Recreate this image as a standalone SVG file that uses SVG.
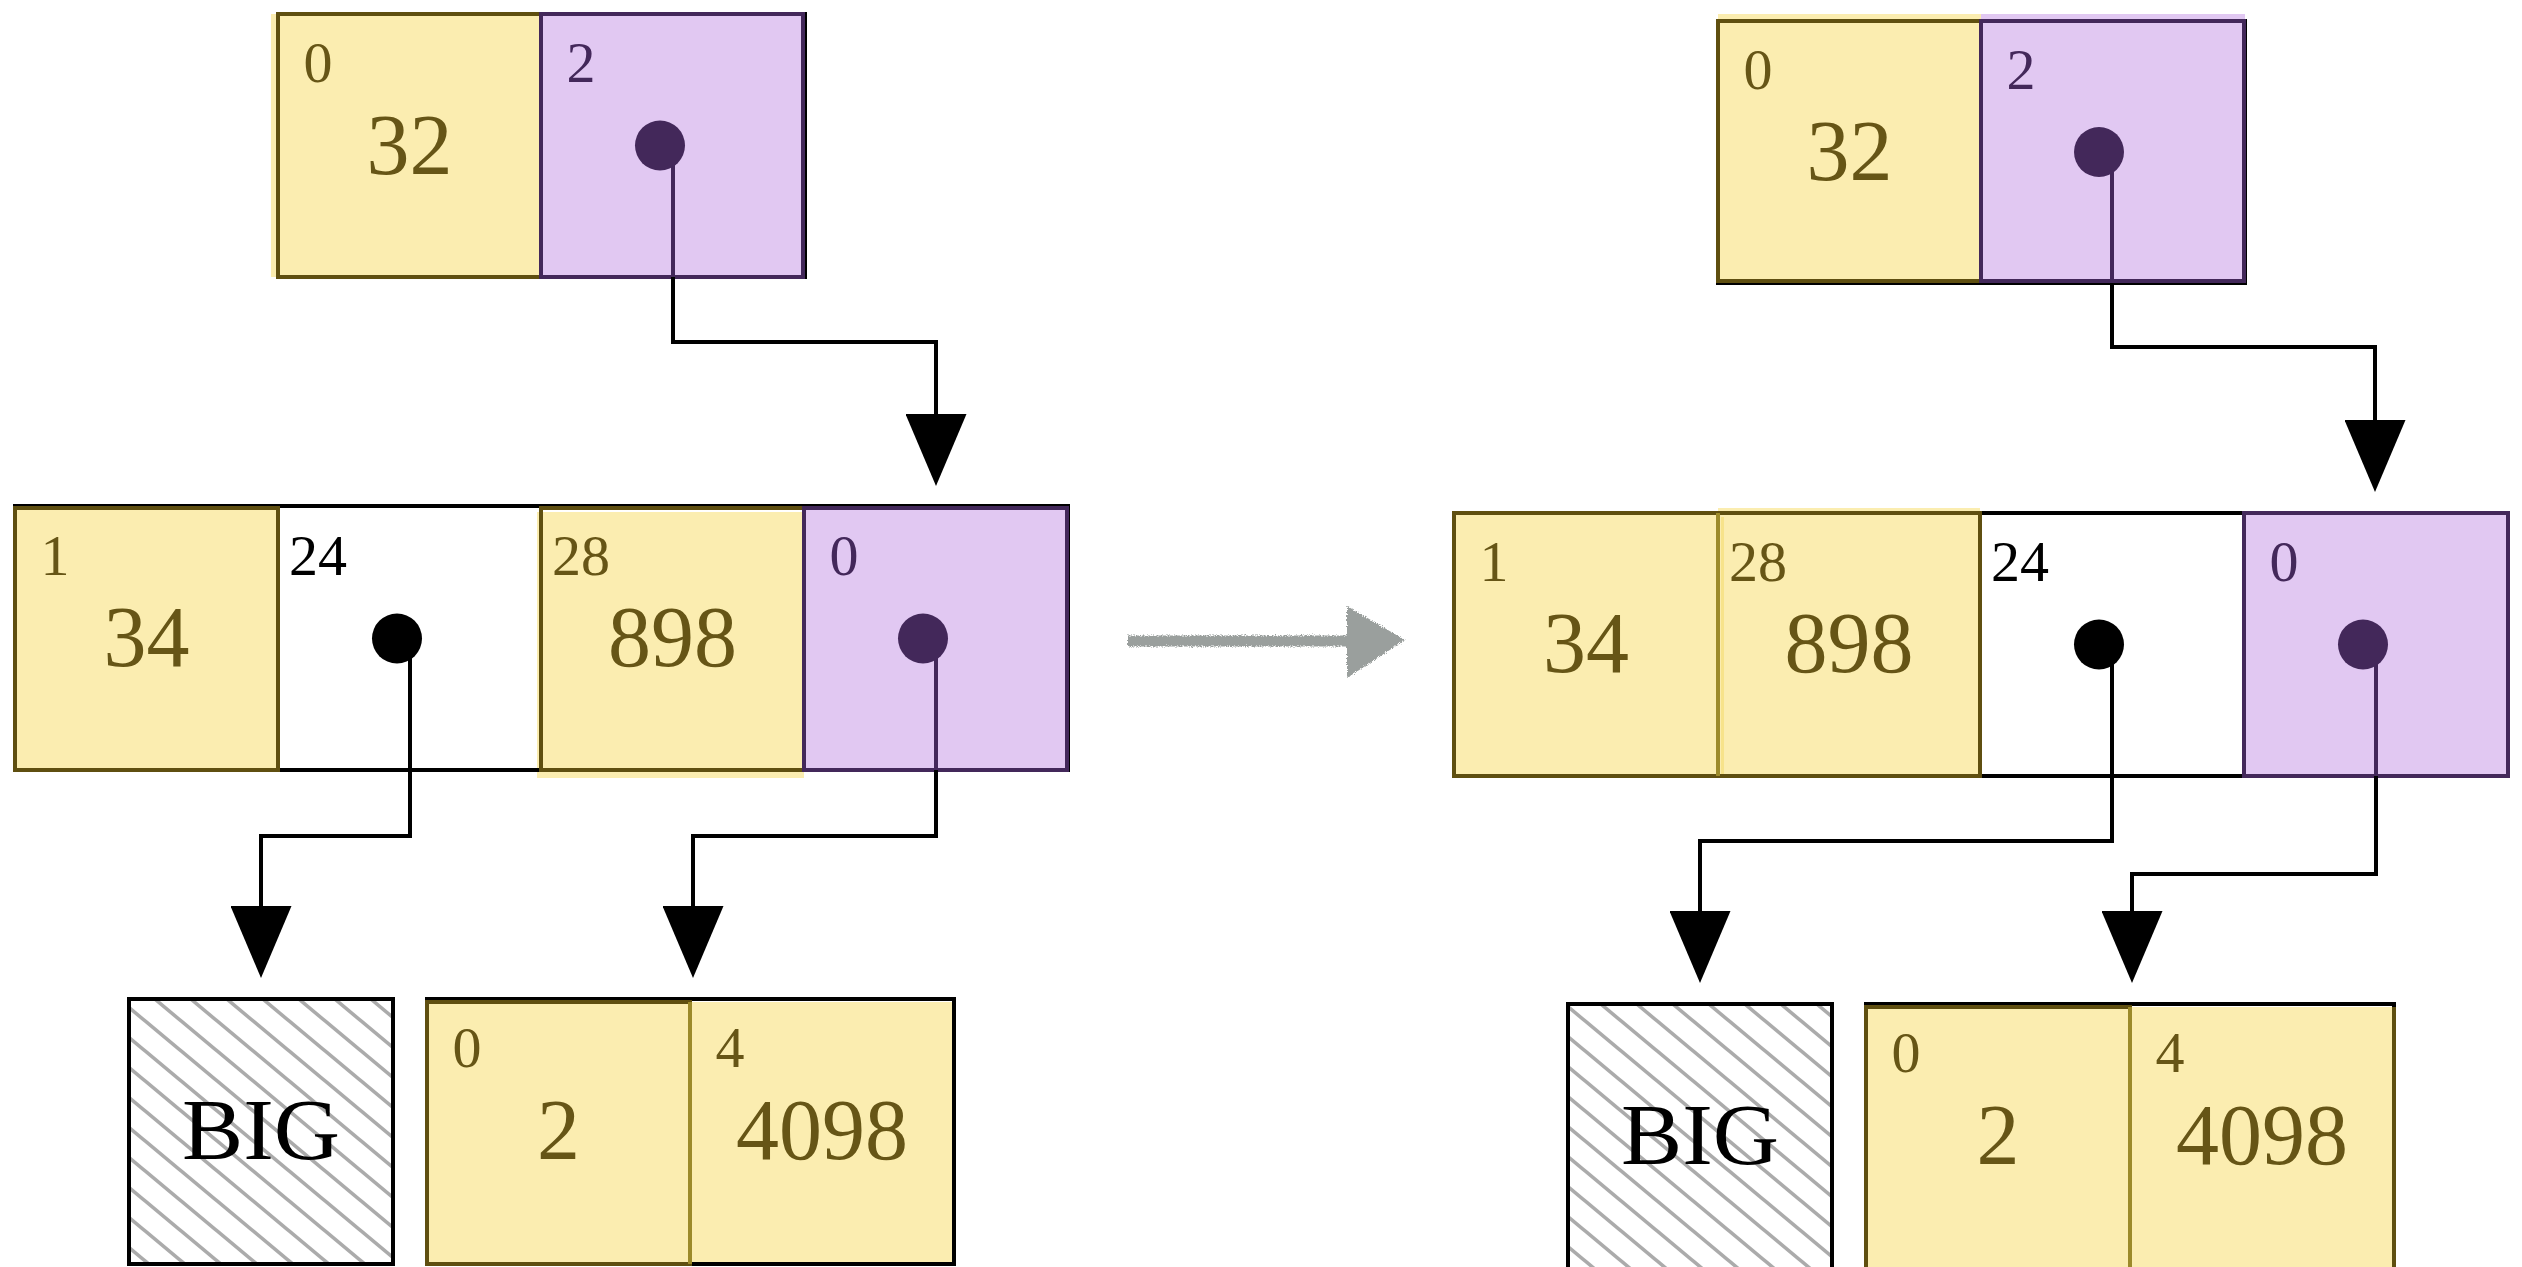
<svg xmlns="http://www.w3.org/2000/svg" width="2522" height="1267" viewBox="0 0 2522 1267">
  <style>
    .yf { fill: #FBEDB0; }
    .pf { fill: #E1C8F2; }
    .ye { fill: none; stroke: #5F4F10; stroke-width: 4; }
    .ge { fill: none; stroke: #9C8A2A; stroke-width: 4; }
    .pe { fill: none; stroke: #43285A; stroke-width: 4; }
    .ke { fill: none; stroke: #000; stroke-width: 4; }
    .idx { font-family: "Liberation Serif", "DejaVu Serif", serif; font-size: 58px; text-anchor: middle; }
    .val { font-family: "Liberation Serif", "DejaVu Serif", serif; font-size: 86px; text-anchor: middle; }
    .ty { fill: #665516; }
    .tp { fill: #43285A; }
    .tk { fill: #000; }
    .dotp { fill: #43285A; }
    .dotk { fill: #000; }
    .stubp { stroke: #43285A; stroke-width: 4; fill: none; }
    .stubk { stroke: #000; stroke-width: 4; fill: none; }
    .wire { fill: none; stroke: #000; stroke-width: 4; marker-end: url(#head); }
    .big { fill: url(#hatch); stroke: #000; stroke-width: 4; }
  </style>
  <defs>
    <marker id="head" viewBox="0 0 72 61" refX="66" refY="30.5" markerWidth="72" markerHeight="61" markerUnits="userSpaceOnUse" orient="auto">
      <path d="M0,0 L72,30.5 L0,61 Z" fill="#000"/>
    </marker>
    <pattern id="hatch" patternUnits="userSpaceOnUse" width="36" height="30">
      <rect width="36" height="30" fill="#fff"/>
      <path d="M0,0 L36,30 M-36,0 L36,60 M0,-30 L72,30" stroke="#ABABAB" stroke-width="3.6"/>
    </pattern>
    <filter id="rough" x="-5%" y="-40%" width="110%" height="180%">
      <feTurbulence type="fractalNoise" baseFrequency="0.9" numOctaves="2" seed="3" result="noise"/>
      <feDisplacementMap in="SourceGraphic" in2="noise" scale="5" xChannelSelector="R" yChannelSelector="G"/>
    </filter>
  </defs>

  <!-- ===== before ===== -->
  <g id="root-before">
    <rect x="271" y="14" width="270" height="263" class="yf"/>
    <rect x="541" y="14" width="264" height="263" class="pf"/>
    <rect x="278" y="14" width="527" height="263" class="ke"/>
    <rect x="278" y="14" width="263" height="263" class="ye"/>
    <rect x="541" y="14" width="262" height="263" class="pe"/>
    <text x="318" y="82" class="idx ty">0</text>
    <text x="409.5" y="174" class="val ty">32</text>
    <text x="581" y="82" class="idx tp">2</text>
    <circle cx="660" cy="145.5" r="25" class="dotp"/>
    <path d="M673,160 V277" class="stubp"/>
  </g>

  <g id="row-before">
    <rect x="15" y="508" width="263" height="262" class="yf"/>
    <rect x="537" y="512" width="267" height="266" class="yf"/>
    <rect x="804" y="508" width="263" height="262" class="pf"/>
    <rect x="15" y="506" width="1053" height="264" class="ke"/>
    <rect x="15" y="508" width="263" height="262" class="ye"/>
    <rect x="541" y="508" width="263" height="262" class="ye"/>
    <rect x="804" y="508" width="263" height="262" class="pe"/>
    <text x="55" y="575" class="idx ty">1</text>
    <text x="146.5" y="666" class="val ty">34</text>
    <text x="318" y="575" class="idx tk">24</text>
    <circle cx="397" cy="638.5" r="25" class="dotk"/>
    <path d="M410,655 V770" class="stubk"/>
    <text x="581" y="575" class="idx ty">28</text>
    <text x="672.5" y="666" class="val ty">898</text>
    <text x="844" y="575" class="idx tp">0</text>
    <circle cx="923" cy="638.5" r="25" class="dotp"/>
    <path d="M936,655 V770" class="stubp"/>
  </g>

  <g id="big-before">
    <rect x="129" y="999" width="264" height="265" class="big"/>
    <text x="261" y="1159" class="val tk" textLength="158" lengthAdjust="spacingAndGlyphs">BIG</text>
  </g>

  <g id="pair-before">
    <rect x="427" y="1002" width="527" height="262" class="yf"/>
    <rect x="427" y="999" width="527" height="265" class="ke"/>
    <rect x="427" y="1002" width="263" height="262" class="ye"/>
    <path d="M690,1002 V1264" class="ge"/>
    <text x="467" y="1067" class="idx ty">0</text>
    <text x="558.5" y="1159" class="val ty">2</text>
    <text x="730" y="1067" class="idx ty">4</text>
    <text x="822" y="1159" class="val ty">4098</text>
  </g>

  <!-- ===== transition ===== -->
  <g id="transition" filter="url(#rough)">
    <path d="M1128,641 L1352,641" stroke="#9A9F9D" stroke-width="11" fill="none"/>
    <path d="M1347,606 L1405,640 L1347,678 Z" fill="#9A9F9D"/>
  </g>

  <!-- ===== after ===== -->
  <g id="root-after">
    <rect x="1718" y="14" width="263" height="268" class="yf"/>
    <rect x="1981" y="14" width="264" height="268" class="pf"/>
    <rect x="1718" y="21" width="527" height="262" class="ke"/>
    <rect x="1718" y="21" width="263" height="260" class="ye"/>
    <rect x="1981" y="21" width="263" height="260" class="pe"/>
    <text x="1758" y="89" class="idx ty">0</text>
    <text x="1849.5" y="180" class="val ty">32</text>
    <text x="2021" y="89" class="idx tp">2</text>
    <circle cx="2099" cy="152" r="25" class="dotp"/>
    <path d="M2112,167 V283" class="stubp"/>
  </g>

  <g id="row-after">
    <rect x="1454" y="513" width="264" height="263" class="yf"/>
    <rect x="1718" y="508" width="262" height="268" class="yf"/>
    <rect x="2244" y="513" width="264" height="263" class="pf"/>
    <rect x="1454" y="513" width="1054" height="263" class="ke"/>
    <rect x="1454" y="513" width="264" height="263" class="ye"/>
    <path d="M1718,513 H1980 V776 H1718" class="ye"/>
    <path d="M1718,513 V776" class="ge"/>
    <path d="M1722.5,517 V774" stroke="#F7E38A" stroke-width="3"/>
    <rect x="2244" y="513" width="264" height="263" class="pe"/>
    <text x="1494" y="581" class="idx ty">1</text>
    <text x="1586" y="672" class="val ty">34</text>
    <text x="1758" y="581" class="idx ty">28</text>
    <text x="1849" y="672" class="val ty">898</text>
    <text x="2020" y="581" class="idx tk">24</text>
    <circle cx="2099" cy="644.5" r="25" class="dotk"/>
    <path d="M2112,661 V776" class="stubk"/>
    <text x="2284" y="581" class="idx tp">0</text>
    <circle cx="2363" cy="644.5" r="25" class="dotp"/>
    <path d="M2376,661 V776" class="stubp"/>
  </g>

  <g id="big-after">
    <rect x="1568" y="1004" width="264" height="265" class="big"/>
    <text x="1700" y="1164" class="val tk" textLength="158" lengthAdjust="spacingAndGlyphs">BIG</text>
  </g>

  <g id="pair-after">
    <rect x="1866" y="1007" width="528" height="262" class="yf"/>
    <rect x="1866" y="1004" width="528" height="265" class="ke"/>
    <rect x="1866" y="1007" width="264" height="262" class="ye"/>
    <path d="M2130,1007 V1269" class="ge"/>
    <path d="M2394,1007 V1269" class="ye"/>
    <text x="1906" y="1072" class="idx ty">0</text>
    <text x="1998" y="1164" class="val ty">2</text>
    <text x="2170" y="1072" class="idx ty">4</text>
    <text x="2262" y="1164" class="val ty">4098</text>
  </g>

  <!-- pointer connectors -->
  <g id="connectors">
    <path d="M673,277 V342 H936 V480" class="wire"/>
    <path d="M410,770 V836 H261 V972" class="wire"/>
    <path d="M936,770 V836 H693 V972" class="wire"/>
    <path d="M2112,283 V347 H2375 V486" class="wire"/>
    <path d="M2112,776 V841 H1700 V977" class="wire"/>
    <path d="M2376,776 V874 H2132 V977" class="wire"/>
  </g>
</svg>
